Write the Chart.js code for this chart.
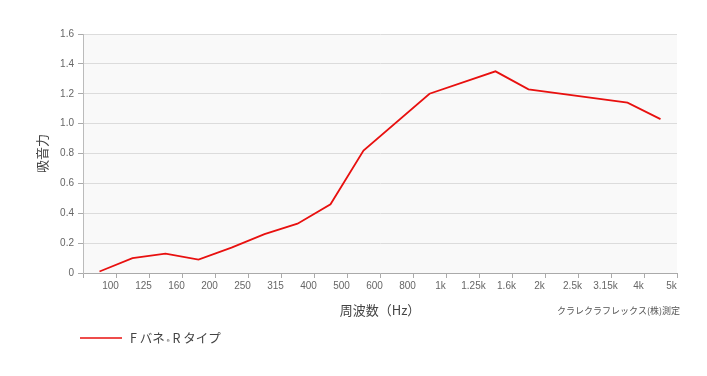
<!DOCTYPE html>
<html lang="ja">
<head>
<meta charset="utf-8">
<script src="https://cdn.jsdelivr.net/npm/chart.js@4"></script>
<style>
  html, body { margin: 0; padding: 0; background: #fff; }
  #wrap { position: relative; width: 707px; height: 376px; }
</style>
</head>
<body>
<div id="wrap"><canvas id="absorbChart" width="707" height="376"></canvas></div>
<script>
// 周波数 (Hz) の帯域
const freqLabels = ['100', '125', '160', '200', '250', '315', '400', '500', '600', '800',
  '1k', '1.25k', '1.6k', '2k', '2.5k', '3.15k', '4k', '5k'];
// 吸音力 (読めない帯域は null で直線をつなぐ)
const absorption = [0.01, 0.10, 0.13, 0.09, 0.17, 0.26, 0.33, 0.46, 0.82, null,
  1.20, null, 1.35, 1.23, null, null, 1.14, 1.03];
const yTicks = [0, 0.2, 0.4, 0.6, 0.8, 1.0, 1.2, 1.4, 1.6];
const seriesName = 'Fバネ®Rタイプ';
const noteText = 'クラレクラフレックス(株)測定';

const JP = '"Noto Sans CJK JP", "Noto Sans", sans-serif';
const NUM = '"Liberation Sans", Arial, sans-serif';

// plot background
const plotBg = {
  id: 'plotBg',
  beforeDraw(chart) {
    const { ctx, chartArea: a } = chart;
    ctx.save();
    ctx.fillStyle = '#f9f9f9';
    ctx.fillRect(a.left, a.top, a.right - a.left, a.bottom - a.top);
    ctx.restore();
  }
};

// legend + measurement note
const extras = {
  id: 'extras',
  afterDraw(chart) {
    const { ctx } = chart;
    const ds = chart.data.datasets[0];
    ctx.save();
    ctx.strokeStyle = ds.borderColor;
    ctx.lineWidth = 1.6;
    ctx.beginPath();
    ctx.moveTo(80, 338);
    ctx.lineTo(122, 338);
    ctx.stroke();

    ctx.fillStyle = '#444';
    ctx.textBaseline = 'middle';
    const parts = ds.label.split('®');
    let x = 130;
    ctx.font = '12.5px ' + JP;
    const first = parts[0].replace('F', 'F ');
    ctx.fillText(first, x, 338);
    x += ctx.measureText(first).width + 2;
    ctx.font = '6px ' + JP;
    ctx.fillText('®', x, 342);
    x += ctx.measureText('®').width + 3;
    ctx.font = '12.5px ' + JP;
    ctx.fillText(parts[1].replace('R', 'R '), x, 338);

    ctx.font = '9px ' + JP;
    ctx.fillStyle = '#555';
    ctx.textAlign = 'right';
    ctx.fillText(noteText, 680, 311);
    ctx.restore();
  }
};

new Chart(document.getElementById('absorbChart'), {
  type: 'line',
  data: {
    labels: freqLabels,
    datasets: [{
      label: seriesName,
      data: absorption,
      borderColor: '#e8100f',
      borderWidth: 1.8,
      pointRadius: 0,
      tension: 0,
      spanGaps: true,
      fill: false
    }]
  },
  options: {
    responsive: false,
    animation: false,
    devicePixelRatio: 1,
    layout: { padding: { top: 34, right: 30, bottom: 53, left: 0 } },
    plugins: {
      legend: { display: false },
      tooltip: { enabled: false }
    },
    scales: {
      x: {
        type: 'category',
        offset: true,
        grid: { offset: true, drawOnChartArea: false, color: '#aaa', tickLength: 5 },
        border: { color: '#aaa' },
        ticks: {
          color: '#666',
          font: { family: NUM, size: 10 },
          maxRotation: 0,
          autoSkip: false,
          labelOffset: 11,
          padding: 2
        },
        title: {
          display: true,
          text: '周波数（Hz）',
          color: '#444',
          font: { family: JP, size: 13 },
          padding: { top: 0, bottom: 5 }
        },
        afterFit(scale) { scale.height = 50; }
      },
      y: {
        min: 0,
        max: 1.6,
        afterBuildTicks(scale) { scale.ticks = yTicks.map(v => ({ value: v })); },
        grid: { color: '#dcdcdc', tickColor: '#aaa', tickLength: 5 },
        border: { color: '#bbb' },
        ticks: {
          color: '#666',
          font: { family: NUM, size: 10 },
          padding: 4,
          callback: v => v === 0 ? '0' : v.toFixed(1)
        },
        title: {
          display: true,
          text: '吸音力',
          color: '#444',
          font: { family: JP, size: 13 },
          padding: { top: 34, bottom: 0 }
        },
        afterFit(scale) { scale.width = 83; }
      }
    }
  },
  plugins: [plotBg, extras]
});
</script>
</body>
</html>
